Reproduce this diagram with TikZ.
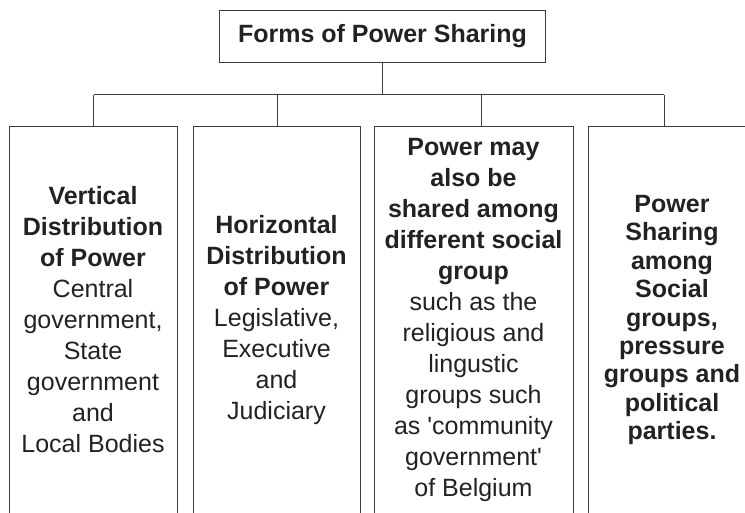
\documentclass[tikz,border=0pt]{standalone}
\usepackage{fontspec}
\setmainfont{Liberation Sans}
\usepackage{tikz}
\usetikzlibrary{positioning}
\definecolor{cInk}{RGB}{34,34,34}
\definecolor{cLine}{RGB}{60,60,60}
\tikzset{
	title/.style  ={rectangle, draw=cLine, line width=1pt, minimum width=326pt, minimum height=52pt, align=center, font=\fontsize{25}{31}\selectfont\bfseries},
	formbox/.style={rectangle, draw=cLine, line width=1pt, minimum height=388pt, align=center, inner sep=0pt},
	link/.style   ={draw=cLine, line width=1pt},
}

\begin{document}
\begin{tikzpicture}[x=1pt, y=-1pt, text=cInk, font=\fontsize{25}{31}\selectfont]
	\useasboundingbox (0,0) rectangle (745,512);
	\clip (0,0) rectangle (745,512);
	\node[title] (forms) at (382.5,36) {Forms of Power Sharing};
	% the four forms, cut off by the page at the bottom
	\node[formbox, minimum width=168pt] (vert) at (93,320)
		{\textbf{Vertical}\\ \textbf{Distribution}\\ \textbf{of Power}\\ Central\\ government,\\ State\\ government\\ and\\ Local Bodies};
	\node[formbox, minimum width=167pt] (horiz) at (276.5,320)
		{\textbf{Horizontal}\\ \textbf{Distribution}\\ \textbf{of Power}\\ Legislative,\\ Executive\\ and\\ Judiciary};
	\node[formbox, minimum width=199pt] (social) at (473.5,320)
		{\textbf{Power may}\\ \textbf{also be}\\ \textbf{shared among}\\ \textbf{different social}\\ \textbf{group}\\ such as the\\ religious and\\ lingustic\\ groups such\\ as \textquotesingle community\\ government\textquotesingle\\ of Belgium};
	\node[formbox, minimum width=168pt, font=\fontsize{25}{28.4}\selectfont\bfseries] (parties) at (672,320)
		{Power\\ Sharing\\ among\\ Social\\ groups,\\ pressure\\ groups and\\ political\\ parties.};
	\coordinate (hub) at (382.5,94.5);
	\coordinate (j1) at (93.5,94.5);
	\coordinate (j2) at (277,94.5);
	\coordinate (j3) at (481,94.5);
	\coordinate (j4) at (664,94.5);
	\draw[link] (forms.south) -- (hub);
	\draw[link] (j1) -- (j4);
	\foreach \j/\b in {j1/vert, j2/horiz, j3/social, j4/parties}
		\draw[link] (\j) -- (\j |- \b.north);
\end{tikzpicture}
\end{document}
